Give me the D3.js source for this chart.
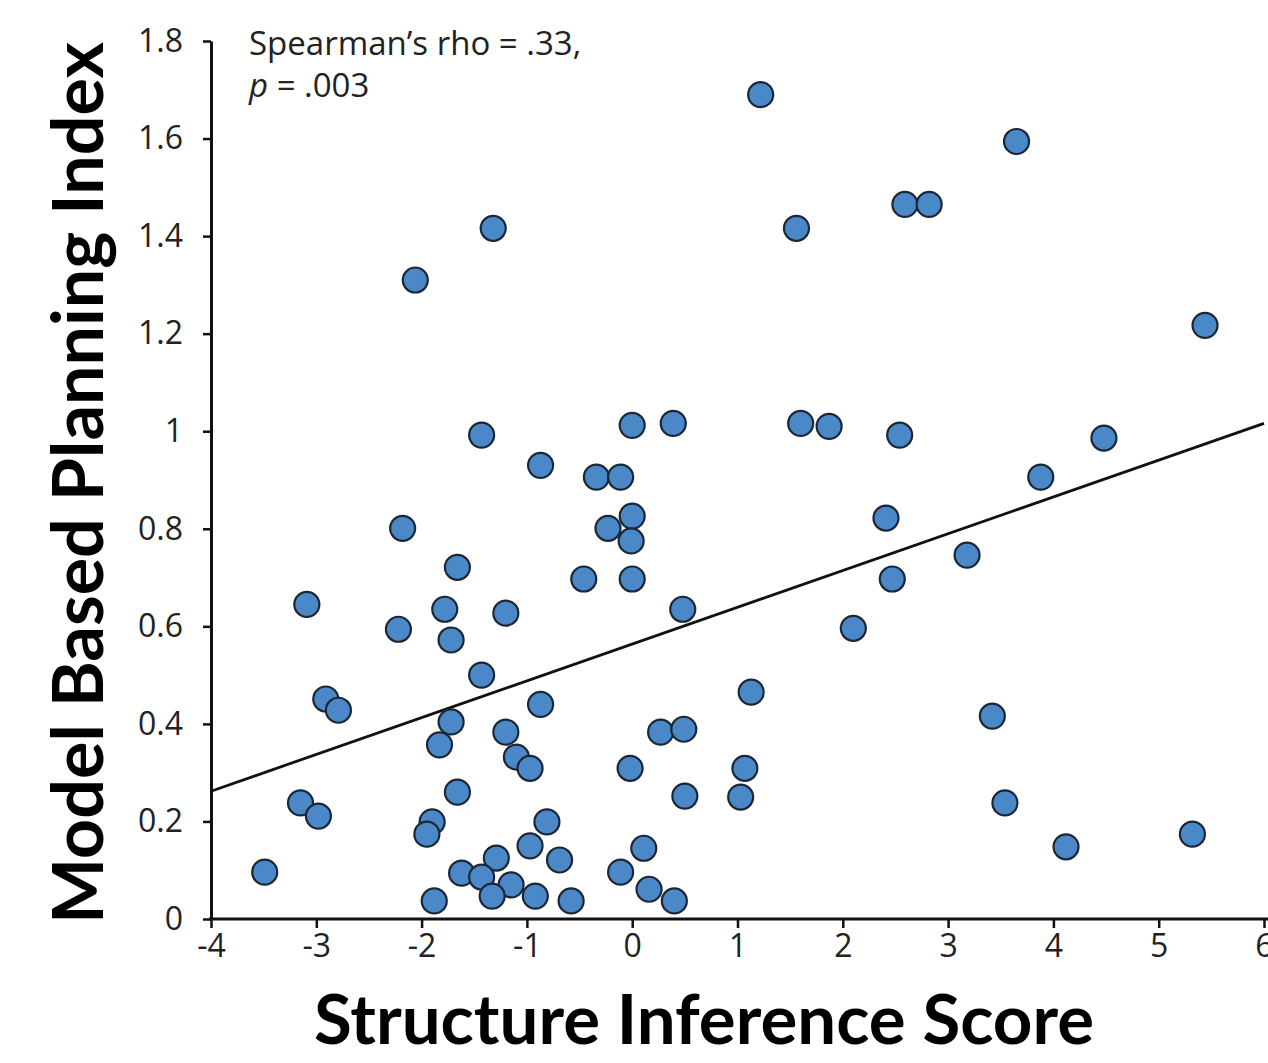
<!DOCTYPE html>
<html>
<head>
<meta charset="utf-8">
<script src="https://cdn.jsdelivr.net/npm/d3@7"></script>
<style>
  body { margin: 0; background: #fff; }
  svg { display: block; }
</style>
</head>
<body>
<svg id="chart"></svg>
<script>
// structure inference score (x) and model based planning index (y)
const scoreX = [1.22, 3.65, -1.32, 1.56, 2.59, 2.82, -2.06, 5.44, -1.43, 0, 0.39, 1.6, 1.87, 2.54, 4.48,
  -0.87, -0.34, -0.11, 3.88, -2.18, -0.23, 0, -0.01, 2.41, -1.66, -0.46, 0, 2.47, 3.18, -3.09, -1.78,
  -1.2, 0.48, -2.22, -1.72, 2.1, -1.43, -2.91, -2.79, -0.87, 1.13, -1.72, -1.2, -1.83, 0.27, 0.49,
  -1.1, -0.97, -0.02, 1.07, 3.42, -1.66, 0.5, 1.03, 3.54, -3.15, -2.98, -1.9, -1.95, -0.81, 5.32,
  -0.97, 0.11, 4.12, -1.29, -0.69, -3.49, -1.62, -1.43, -1.15, -0.11, 0.16, -1.88, -1.33, -0.92,
  -0.58, 0.4]
const planIdx = [1.69, 1.594, 1.416, 1.416, 1.465, 1.465, 1.31, 1.217, 0.992, 1.012, 1.016, 1.016, 1.01, 0.992, 0.986,
  0.93, 0.906, 0.906, 0.906, 0.801, 0.801, 0.826, 0.775, 0.822, 0.721, 0.697, 0.697, 0.697, 0.746, 0.645, 0.635,
  0.627, 0.635, 0.594, 0.572, 0.596, 0.5, 0.451, 0.428, 0.44, 0.465, 0.404, 0.383, 0.357, 0.383, 0.389,
  0.332, 0.309, 0.309, 0.309, 0.416, 0.26, 0.252, 0.25, 0.238, 0.238, 0.211, 0.199, 0.174, 0.199, 0.174,
  0.15, 0.145, 0.148, 0.125, 0.121, 0.096, 0.094, 0.086, 0.07, 0.096, 0.061, 0.037, 0.047, 0.047,
  0.037, 0.037]

// fitted line ends as drawn
const fitX = [-4, 6]
const fitY = [0.262, 1.016]

const xTicks = [-4, -3, -2, -1, 0, 1, 2, 3, 4, 5, 6]
const yTicks = [0, 0.2, 0.4, 0.6, 0.8, 1, 1.2, 1.4, 1.6, 1.8]

const width = 1268
const height = 1063
const marginLeft = 211
const marginRight = 4
const marginTop = 41
const marginBottom = 144

const svg = d3.select('#chart')
    .attr('width', width)
    .attr('height', height)
    .attr('viewBox', [0, 0, width, height])

const xScale = d3.scaleLinear([-4, 6], [marginLeft, width - marginRight])
const yScale = d3.scaleLinear([0, 1.8], [height - marginBottom, marginTop])

const tickFont = '"Open Sans", "DejaVu Sans", sans-serif'

// x axis
svg.append('g')
    .attr('transform', `translate(0,${height - marginBottom})`)
    .call(d3.axisBottom(xScale).tickValues(xTicks).tickFormat(d => String(d)).tickSize(9).tickSizeOuter(0).tickPadding(6))
    .call(g => g.select('.domain').attr('stroke', '#111').attr('stroke-width', 3)
        .attr('d', `M${marginLeft - 2},0H${width}`))
    .call(g => g.selectAll('.tick line').attr('stroke', '#111').attr('stroke-width', 2.5))
    .call(g => g.selectAll('.tick text')
        .attr('fill', '#222')
        .attr('font-family', tickFont)
        .attr('font-size', 32))

// y axis
svg.append('g')
    .attr('transform', `translate(${marginLeft},0)`)
    .call(d3.axisLeft(yScale).tickValues(yTicks).tickFormat(d => String(+d.toFixed(1))).tickSize(8).tickSizeOuter(0).tickPadding(20))
    .call(g => g.select('.domain').attr('stroke', '#111').attr('stroke-width', 3))
    .call(g => g.selectAll('.tick line').attr('stroke', '#111').attr('stroke-width', 2.5))
    .call(g => g.selectAll('.tick text')
        .attr('fill', '#222')
        .attr('font-family', tickFont)
        .attr('font-size', 32))

// regression line
const line = d3.line()
    .x(d => xScale(d[0]))
    .y(d => yScale(d[1]))
svg.append('path')
    .attr('fill', 'none')
    .attr('stroke', '#111')
    .attr('stroke-width', 2.8)
    .attr('d', line(d3.zip(fitX, fitY)))

// points
svg.append('g')
  .selectAll('circle')
  .data(d3.range(scoreX.length))
  .join('circle')
    .attr('cx', i => xScale(scoreX[i]))
    .attr('cy', i => yScale(planIdx[i]))
    .attr('r', 12.5)
    .attr('fill', '#4b88c8')
    .attr('stroke', '#1b2735')
    .attr('stroke-width', 2.2)

// stats note
const note = svg.append('g')
    .attr('font-family', tickFont)
    .attr('font-size', 33)
    .attr('fill', '#222')
note.append('text')
    .attr('x', 249)
    .attr('y', 55)
    .text('Spearman\u2019s rho = .33,')
const pLine = note.append('text')
    .attr('x', 249)
    .attr('y', 97)
pLine.append('tspan').attr('font-style', 'italic').text('p')
pLine.append('tspan').text(' = .003')

// axis titles
svg.append('text')
    .attr('x', 704)
    .attr('y', 1044)
    .attr('text-anchor', 'middle')
    .attr('font-family', 'Lato, "Open Sans", sans-serif')
    .attr('font-weight', 'bold')
    .attr('font-size', 69)
    .attr('fill', '#000')
    .text('Structure Inference Score')

svg.append('text')
    .attr('transform', `translate(103,${483}) rotate(-90)`)
    .attr('text-anchor', 'middle')
    .attr('font-family', 'Lato, "Open Sans", sans-serif')
    .attr('font-weight', 'bold')
    .attr('font-size', 70)
    .attr('fill', '#000')
    .text('Model Based Planning Index')
</script>
</body>
</html>
